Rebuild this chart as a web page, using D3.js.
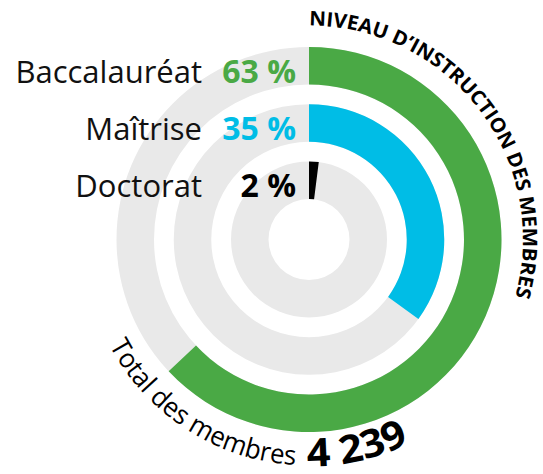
<!DOCTYPE html>
<html><head><meta charset="utf-8">
<script src="https://cdn.jsdelivr.net/npm/d3@7"></script>
<style>
html,body{margin:0;padding:0;background:#fff;}
svg{display:block;}
text{font-family:"Open Sans","Noto Sans",sans-serif;}
</style></head>
<body>
<script>
const categories = ["Baccalauréat", "Maîtrise", "Doctorat"];
const values = [63, 35, 2];
const valueLabels = ["63 %", "35 %", "2 %"];
const colors = ["#4aa945", "#00bde6", "#000000"];
const title = "NIVEAU D\u2019INSTRUCTION DES MEMBRES";
const totalLabel = "Total des membres";
const totalValue = "4 239";

const W = 543, H = 474, cx = 309, cy = 239.5;
const svg = d3.select("body").append("svg").attr("width", W).attr("height", H);
const g = svg.append("g").attr("transform", `translate(${cx},${cy})`);

const r = d3.scaleBand().domain(categories.slice().reverse()).range([40.5, 192.5]).paddingInner(0.345).paddingOuter(0);
const a = d3.scaleLinear().domain([0, 100]).range([0, 2 * Math.PI]);

const arc = d3.arc()
  .innerRadius(d => r(d.c))
  .outerRadius(d => r(d.c) + r.bandwidth());

const data = categories.map((c, i) => ({c, v: values[i], col: colors[i], lab: valueLabels[i]}));

g.selectAll("path.bg").data(data).join("path").attr("class", "bg")
  .attr("fill", "#e9e9e9")
  .attr("d", d => arc({...d, startAngle: 0, endAngle: 2 * Math.PI}));

g.selectAll("path.fg").data(data).join("path").attr("class", "fg")
  .attr("fill", d => d.col)
  .attr("d", d => arc({...d, startAngle: a(0), endAngle: a(d.v)}));

// labels
const lab = svg.append("g");
data.forEach(d => {
  const y = cy - (r(d.c) + r.bandwidth() / 2) + 17;
  lab.append("text").attr("x", 202).attr("y", y).attr("text-anchor", "end")
    .attr("font-size", 31).attr("fill", "#111").text(d.c);
  lab.append("text").attr("x", 296).attr("y", y).attr("text-anchor", "end")
    .attr("font-size", 32).attr("font-weight", 700).attr("fill", d.col).text(d.lab);
});

// curved title
const defs = svg.append("defs");
const pt = (rad, deg) => {
  const t = deg * Math.PI / 180;
  return [cx + rad * Math.sin(t), cy - rad * Math.cos(t)];
};
const rt = 214;
const p0 = pt(rt, 0), p1 = pt(rt, 180);
defs.append("path").attr("id", "titlePath")
  .attr("d", `M${p0[0]},${p0[1]} A${rt},${rt} 0 0 1 ${p1[0]},${p1[1]}`);
svg.append("text").attr("font-size", 20).attr("font-weight", 700).attr("fill", "#000")
  .append("textPath").attr("href", "#titlePath")
  .attr("textLength", 394).attr("lengthAdjust", "spacingAndGlyphs").text(title);

// bottom curved text (counterclockwise)
const rb = 226;
const q0 = pt(rb, 242), q1 = pt(rb, 110);
defs.append("path").attr("id", "botPath")
  .attr("d", `M${q0[0]},${q0[1]} A${rb},${rb} 0 0 0 ${q1[0]},${q1[1]}`);
svg.append("text").attr("font-size", 27).attr("fill", "#000")
  .append("textPath").attr("href", "#botPath")
  .attr("textLength", 231).attr("lengthAdjust", "spacingAndGlyphs").text(totalLabel);
const rv = 227;
const v0 = pt(rv, 242), v1 = pt(rv, 110);
defs.append("path").attr("id", "valPath")
  .attr("d", `M${v0[0]},${v0[1]} A${rv},${rv} 0 0 0 ${v1[0]},${v1[1]}`);
svg.append("text").attr("font-size", 39).attr("font-weight", 700).attr("fill", "#000")
  .append("textPath").attr("href", "#valPath")
  .attr("startOffset", (242 - 180.5) * Math.PI / 180 * rv)
  .attr("textLength", 106).attr("lengthAdjust", "spacingAndGlyphs").text(totalValue);
</script>
</body></html>
